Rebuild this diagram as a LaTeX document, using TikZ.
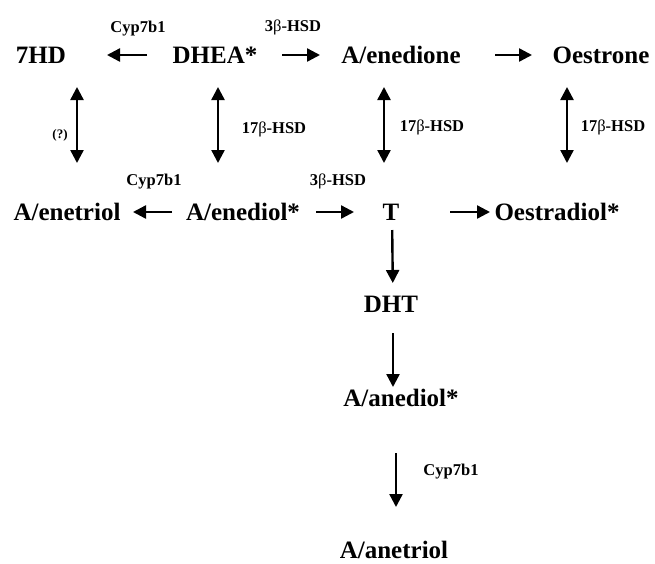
\documentclass[tikz,border=0pt]{standalone}
\usepackage{fontspec}
\setmainfont{Liberation Serif}
\usetikzlibrary{positioning,arrows.meta}

\begin{document}
\begin{tikzpicture}[x=1pt,y=-1pt,on grid]
\tikzstyle{mol}=[inner sep=0pt,font=\fontsize{25}{30}\selectfont\bfseries,text height=16.5pt,text depth=0pt]
\tikzstyle{enz}=[inner sep=0pt,font=\fontsize{16.5}{20}\selectfont\bfseries,text height=11pt,text depth=0pt]
\tikzstyle{conv}=[draw,line width=2.4pt,-{Triangle[length=13pt,width=13pt]}]
\tikzstyle{rev}=[conv,{Triangle[length=13pt,width=13pt]}-{Triangle[length=13pt,width=13pt]}]

\useasboundingbox (0,0) rectangle (655,563);

\node[mol] (hd) at (41,55) {7HD};
\node[mol, right=174pt of hd] (dhea) {DHEA*};
\node[mol, right=186pt of dhea] (enedione) {A/enedione};
\node[mol, right=200pt of enedione] (oestrone) {Oestrone};
\node[mol, below right=157pt and 26pt of hd] (enetriol) {A/enetriol};
\node[mol, below right=157pt and 28pt of dhea] (enediol) {A/enediol*};
\node[mol, below left=157pt and 10pt of enedione] (t) {T};
\node[mol, below left=157pt and 44pt of oestrone] (oestradiol) {Oestradiol*};
\node[mol, below=92pt of t] (dht) {DHT};
\node[mol, below right=94pt and 10pt of dht] (anediol) {A/anediol*};
\node[mol, below left=152pt and 7pt of anediol] (anetriol) {A/anetriol};

% enzymes
\node[enz] (cypa) at (138,27) {Cyp7b1};
\node[enz] (hsda) at (293,26) {3{\mdseries β}-HSD};
\node[enz, font=\fontsize{13}{15}\selectfont\bfseries] (unk) at (60,133) {(?)};
\node[enz] (hsdb) at (274,128) {17{\mdseries β}-HSD};
\node[enz] (hsdc) at (432,126) {17{\mdseries β}-HSD};
\node[enz] (hsdd) at (613,126) {17{\mdseries β}-HSD};
\node[enz] (cypb) at (154,180) {Cyp7b1};
\node[enz] (hsde) at (338,180) {3{\mdseries β}-HSD};
\node[enz] (cypc) at (451,470) {Cyp7b1};

\path (dhea.center) edge[conv, shorten <=68pt, shorten >=66pt] (hd.center);
\path (dhea.center) edge[conv, shorten <=67pt, shorten >=81pt] (enedione.center);
\path (enedione.center) edge[conv, shorten <=94pt, shorten >=69pt] (oestrone.center);
\path (enediol.center) edge[conv, shorten <=71pt, shorten >=66pt] (enetriol.center);
\path (enediol.center) edge[conv, shorten <=73pt, shorten >=37pt] (t.center);
\path (t.center) edge[conv, shorten <=59pt, shorten >=67pt] (oestradiol.center);

\path ([xshift=36pt]hd.center) edge[rev, shorten <=32pt, shorten >=49pt] ([xshift=10pt]enetriol.center);
\path ([xshift=3pt]dhea.center) edge[rev, shorten <=32pt, shorten >=49pt] ([xshift=-25pt]enediol.center);
\path ([xshift=-17pt]enedione.center) edge[rev, shorten <=32pt, shorten >=49pt] ([xshift=-7pt]t.center);
\path ([xshift=-34pt]oestrone.center) edge[rev, shorten <=32pt, shorten >=49pt] ([xshift=10pt]oestradiol.center);

\path ([xshift=1pt]t.center) edge[conv, shorten <=18pt, shorten >=21pt] ([xshift=2pt]dht.center);
\path ([xshift=2pt]dht.center) edge[conv, shorten <=29pt, shorten >=11pt] ([xshift=-8pt]anediol.center);
\path ([xshift=-5pt]anediol.center) edge[conv, shorten <=55pt, shorten >=43pt] ([xshift=2pt]anetriol.center);
\end{tikzpicture}
\end{document}
